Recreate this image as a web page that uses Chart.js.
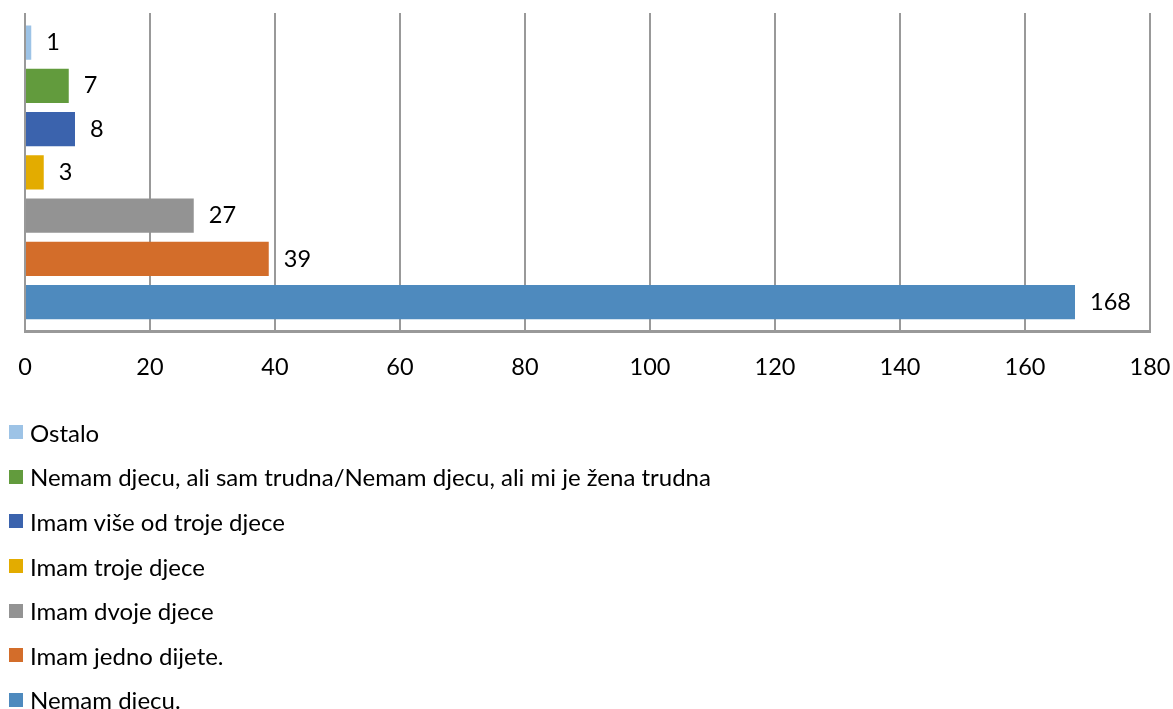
<!DOCTYPE html>
<html>
<head>
<meta charset="utf-8">
<script src="https://cdn.jsdelivr.net/npm/chart.js@4/dist/chart.umd.min.js"></script>
<style>
  html, body { margin: 0; padding: 0; background: #fff; }
  #wrap { position: relative; width: 1173px; height: 412px; }
  #legend { margin: 0; padding: 0; list-style: none; font-family: Lato, sans-serif; font-size: 24px; color: #000; }
  #legend li { height: 44.6px; display: flex; align-items: center; white-space: nowrap; }
  #legend .box { width: 14px; height: 14px; margin: 0 7px 0 9px; flex: none; }
</style>
</head>
<body>
<div id="wrap"><canvas id="chart"></canvas></div>
<ul id="legend" style="position:absolute; top:410px; left:0;"></ul>
<script>
// Broj djece — horizontal bars, one series per answer
const SERIES_LABELS = [
  'Ostalo',
  'Nemam djecu, ali sam trudna/Nemam djecu, ali mi je žena trudna',
  'Imam više od troje djece',
  'Imam troje djece',
  'Imam dvoje djece',
  'Imam jedno dijete.',
  'Nemam djecu.'
];
const SERIES_VALUES = [1, 7, 8, 3, 27, 39, 168];
const SERIES_COLORS = ['#9dc3e6', '#629b3d', '#3b63ad', '#e3ac00', '#939393', '#d36d2a', '#4e8abe'];
const CATEGORY = [''];
const X_MAX = 180;
const X_STEP = 20;

const FONT = 'Lato, sans-serif';
const FONT_SIZE = 23.5;

const valueLabels = {
  id: 'valueLabels',
  afterDatasetsDraw(chart) {
    const ctx = chart.ctx;
    ctx.save();
    ctx.font = FONT_SIZE + 'px ' + FONT;
    ctx.fillStyle = '#000';
    ctx.textBaseline = 'middle';
    chart.data.datasets.forEach((ds, i) => {
      const bar = chart.getDatasetMeta(i).data[0];
      ctx.fillText(String(ds.data[0]), bar.x + 15, bar.y);
    });
    ctx.restore();
  }
};

new Chart(document.getElementById('chart'), {
  type: 'bar',
  data: {
    labels: CATEGORY,
    datasets: SERIES_LABELS.map((label, i) => ({
      label,
      data: [SERIES_VALUES[i]],
      backgroundColor: SERIES_COLORS[i],
      categoryPercentage: 0.95,
      barPercentage: 0.79,
    }))
  },
  options: {
    indexAxis: 'y',
    responsive: true,
    maintainAspectRatio: false,
    animation: false,
    layout: { padding: { top: 13, left: 25, right: 23, bottom: 8 } },
    plugins: { legend: { display: false }, tooltip: { enabled: false } },
    scales: {
      x: {
        min: 0,
        max: X_MAX,
        ticks: { stepSize: X_STEP, padding: 22, color: '#000', maxRotation: 0, font: { family: FONT, size: FONT_SIZE } },
        grid: { color: '#999', lineWidth: 2, drawTicks: false },
        border: { color: '#999', width: 3 },
        afterFit(scale) { scale.paddingLeft = 0; scale.paddingRight = 0; },
      },
      y: { display: false },
    },
  },
  plugins: [valueLabels],
});

const legend = document.getElementById('legend');
SERIES_LABELS.forEach((label, i) => {
  const li = document.createElement('li');
  li.innerHTML = '<span class="box" style="background:' + SERIES_COLORS[i] + '"></span>';
  li.appendChild(document.createTextNode(label));
  legend.appendChild(li);
});
</script>
</body>
</html>
